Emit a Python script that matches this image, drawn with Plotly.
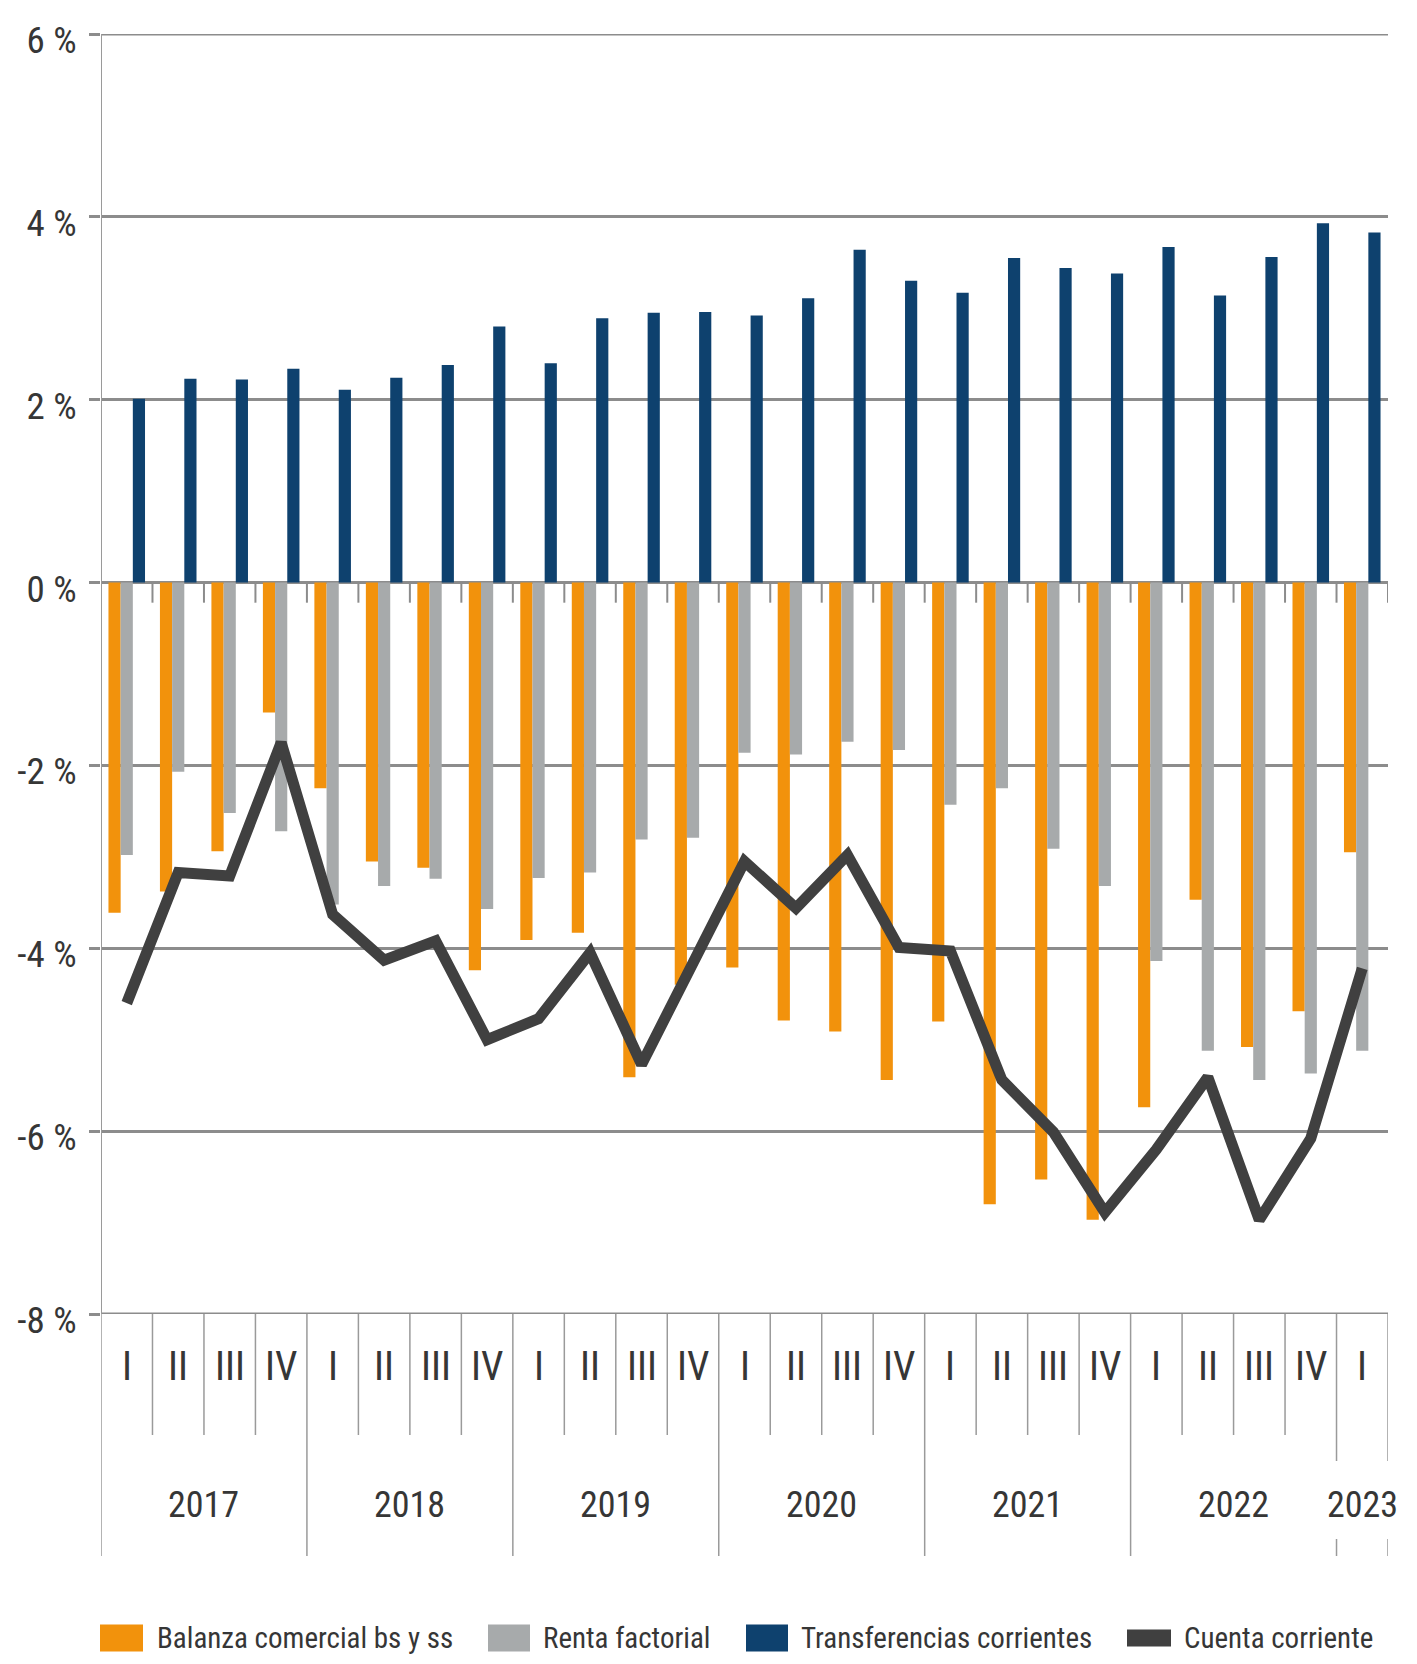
import plotly.graph_objects as go

# ---------------- data ----------------
years = ["2017"] * 4 + ["2018"] * 4 + ["2019"] * 4 + ["2020"] * 4 + ["2021"] * 4 + ["2022"] * 4 + ["2023"]
quarters = ["I", "II", "III", "IV"] * 6 + ["I"]

balanza = [-3.61, -3.38, -2.94, -1.42, -2.25, -3.05, -3.12, -4.24, -3.91, -3.83, -5.41, -4.40,
           -4.21, -4.79, -4.91, -5.44, -4.80, -6.80, -6.53, -6.97, -5.74, -3.47, -5.08, -4.69, -2.95]
renta = [-2.98, -2.07, -2.52, -2.72, -3.52, -3.32, -3.24, -3.57, -3.23, -3.17, -2.81, -2.79,
         -1.86, -1.88, -1.74, -1.83, -2.43, -2.25, -2.91, -3.32, -4.14, -5.12, -5.44, -5.37, -5.12]
transfer = [2.01, 2.23, 2.22, 2.34, 2.11, 2.24, 2.38, 2.80, 2.40, 2.89, 2.95, 2.96,
            2.92, 3.11, 3.64, 3.30, 3.17, 3.55, 3.44, 3.38, 3.67, 3.14, 3.56, 3.93, 3.83]
cuenta = [-4.60, -3.17, -3.21, -1.75, -3.63, -4.13, -3.92, -5.00, -4.77, -4.05, -5.27, -4.14,
          -3.05, -3.56, -2.98, -3.99, -4.03, -5.44, -6.01, -6.89, -6.20, -5.41, -6.97, -6.08, -4.22]

ytick_vals = [6, 4, 2, 0, -2, -4, -6, -8]
ytick_text = ["6 %", "4 %", "2 %", "0 %", "-2 %", "-4 %", "-6 %", "-8 %"]

names = ["Balanza comercial bs y ss", "Renta factorial", "Transferencias corrientes", "Cuenta corriente"]

# ---------------- style ----------------
ORANGE = "#F2920C"
GRAY = "#A7AAAB"
BLUE = "#0E416E"
DARK = "#404040"
GRID = "#8C8C8C"
SEP = "#9A9A9A"
TXT = "#363636"
FONT = "Liberation Sans Narrow, Roboto Condensed, Arial Narrow, DejaVu Sans Condensed, sans-serif"

# page has an 8px body margin: figure is sized/offset so the plot lands where the reference has it
OFF = 8
W, H = 1417 - 2 * OFF, 1664 - 2 * OFF
# page-pixel plot box: left 101, right 1388, top 34, bottom 1314
ML, MT = 101 - OFF, 34 - OFF
MR = W - (1388 - OFF)
MB = H - (1314 - OFF)
PW, PH = W - ML - MR, H - MT - MB


def py(pix):  # page pixel y -> paper y
    return (H - MB - (pix - OFF)) / PH


def px(pix):  # page pixel x -> paper x
    return ((pix - OFF) - ML) / PW


cats = [f"{y}-{q}" for y, q in zip(years, quarters)]
n = len(cats)

fig = go.Figure()
fig.add_trace(go.Bar(x=cats, y=balanza, name=names[0], marker=dict(color=ORANGE, line=dict(width=0))))
fig.add_trace(go.Bar(x=cats, y=renta, name=names[1], marker=dict(color=GRAY, line=dict(width=0))))
fig.add_trace(go.Bar(x=cats, y=transfer, name=names[2], marker=dict(color=BLUE, line=dict(width=0))))
fig.add_trace(go.Scatter(x=cats, y=cuenta, name=names[3], mode="lines",
                         line=dict(color=DARK, width=11)))

shapes = []
annotations = []

# edge gridlines (top and bottom of range)
for yv in (ytick_vals[0], ytick_vals[-1]):
    shapes.append(dict(type="line", xref="paper", yref="y", x0=0, x1=1, y0=yv, y1=yv,
                       line=dict(color=GRID, width=3), layer="below"))

# small ticks on the zero line at category boundaries
for k in range(n):
    shapes.append(dict(type="line", xref="x", yref="y", x0=k + 0.5, x1=k + 0.5, y0=0, y1=-0.22,
                       line=dict(color=GRID, width=2)))

# quarter labels
for k, q in enumerate(quarters):
    annotations.append(dict(xref="x", yref="paper", x=k, y=py(1366), text=q, showarrow=False,
                            font=dict(family=FONT, size=40, color=TXT), xanchor="center", yanchor="middle"))

# separators
year_starts = [i for i in range(n) if i == 0 or years[i] != years[i - 1]]
for k in range(n + 1):
    xb = k - 0.5
    if k in year_starts or k == n:
        if k >= n - 1:  # 2023 boundaries broken around label
            shapes.append(dict(type="line", xref="x", yref="paper", x0=xb, x1=xb, y0=0, y1=py(1461),
                               line=dict(color=SEP, width=1.5)))
            shapes.append(dict(type="line", xref="x", yref="paper", x0=xb, x1=xb, y0=py(1539), y1=py(1556),
                               line=dict(color=SEP, width=1.5)))
        else:
            shapes.append(dict(type="line", xref="x", yref="paper", x0=xb, x1=xb, y0=0, y1=py(1556),
                               line=dict(color=SEP, width=1.5)))
    else:
        shapes.append(dict(type="line", xref="x", yref="paper", x0=xb, x1=xb, y0=0, y1=py(1435),
                           line=dict(color=SEP, width=1.5)))

# year labels
uniq_years = []
for y in years:
    if y not in uniq_years:
        uniq_years.append(y)
for y in uniq_years:
    idx = [i for i, yy in enumerate(years) if yy == y]
    annotations.append(dict(xref="x", yref="paper", x=(idx[0] + idx[-1]) / 2, y=py(1505), text=y,
                            showarrow=False, font=dict(family=FONT, size=36, color=TXT),
                            xanchor="center", yanchor="middle"))

# manual legend (page pixel positions)
leg_y = 1638
leg_items = [
    (names[0], ORANGE, 100, 143, 155, 27),
    (names[1], GRAY, 488, 530, 541, 27),
    (names[2], BLUE, 746, 788, 799, 27),
    (names[3], DARK, 1127, 1171, 1182, 17),
]
for name, col, x0, x1, xt, hh in leg_items:
    shapes.append(dict(type="rect", xref="paper", yref="paper", x0=px(x0), x1=px(x1),
                       y0=py(leg_y + hh / 2), y1=py(leg_y - hh / 2),
                       fillcolor=col, line=dict(width=0)))
    annotations.append(dict(xref="paper", yref="paper", x=px(xt), y=py(leg_y), text=name, showarrow=False,
                            font=dict(family=FONT, size=29, color=TXT), xanchor="left", yanchor="middle"))

# y axis line continuing below plot
shapes.append(dict(type="line", xref="x", yref="paper", x0=-0.5, x1=-0.5, y0=0, y1=1,
                   line=dict(color=SEP, width=2)))

fig.update_layout(
    width=W, height=H,
    margin=dict(l=ML, r=MR, t=MT, b=MB, pad=0, autoexpand=False),
    paper_bgcolor="white", plot_bgcolor="white",
    barmode="group", bargap=0.29, bargroupgap=0,
    showlegend=False,
    font=dict(family=FONT, color=TXT),
    shapes=shapes, annotations=annotations,
    xaxis=dict(type="category", showticklabels=False, showgrid=False, zeroline=False,
               showline=False, ticks="", range=[-0.5, n - 0.5], automargin=False),
    yaxis=dict(range=[-8, 6], tickvals=ytick_vals, ticktext=ytick_text, automargin=False,
               showgrid=True, gridcolor=GRID, gridwidth=3, zeroline=False,
               showline=False, ticks="outside", ticklen=11, tickwidth=3, tickcolor=GRID,
               tickfont=dict(family=FONT, size=37, color=TXT), ticklabelstandoff=5,
               ticklabelshift=6, ticklabeloverflow="allow"),
)

fig.write_html("out.html")
